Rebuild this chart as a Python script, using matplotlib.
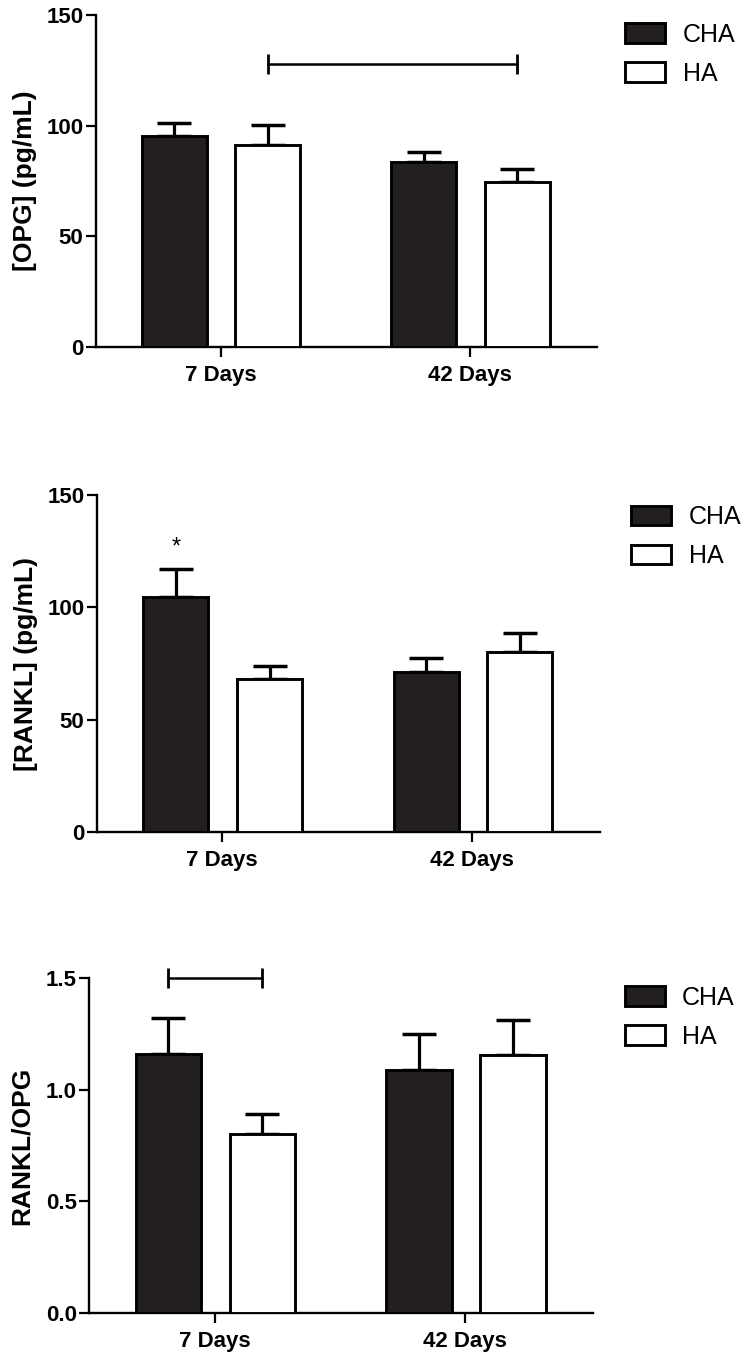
import numpy as np
import matplotlib
matplotlib.use("Agg")
import matplotlib.pyplot as plt

plt.rcParams['font.family'] = ['Liberation Sans', 'DejaVu Sans']

# Data
days = ["7 Days", "42 Days"]
groups = ["CHA", "HA"]

opg_cha = [95.5, 83.5]
opg_cha_err = [5.5, 4.5]
opg_ha = [91.3, 74.4]
opg_ha_err = [9.0, 6.0]

rankl_cha = [104.4, 71.3]
rankl_cha_err = [12.5, 6.3]
rankl_ha = [68.0, 80.0]
rankl_ha_err = [6.0, 8.4]

ratio_cha = [1.16, 1.09]
ratio_cha_err = [0.16, 0.16]
ratio_ha = [0.80, 1.155]
ratio_ha_err = [0.09, 0.155]

# significance marks
opg_bracket = 127.7
rankl_star = 126.5
ratio_bracket = 1.50

x = np.arange(len(days))
offsets = [-0.185, 0.19]
width = 0.26


def draw_panel(rect, cha, cha_err, ha, ha_err, ylabel, yticks, fmt, legend_xy, label_x):
    ax = fig.add_axes(rect)
    ax.bar(x + offsets[0], cha, width, color='#231f20', edgecolor='black', linewidth=2.1, zorder=3, label=groups[0])
    ax.bar(x + offsets[1], ha, width, color='white', edgecolor='black', linewidth=2.1, zorder=3, label=groups[1])
    ax.errorbar(x + offsets[0], cha, yerr=[np.zeros(len(cha)), cha_err], fmt='none', ecolor='black',
                elinewidth=2.3, capsize=12, capthick=2.5, zorder=2)
    ax.errorbar(x + offsets[1], ha, yerr=[np.zeros(len(ha)), ha_err], fmt='none', ecolor='black',
                elinewidth=2.3, capsize=12, capthick=2.5, zorder=2)

    ax.set_xlim(-0.5, 1.51)
    ax.set_ylim(yticks[0], yticks[-1])
    ax.set_xticks(x)
    ax.set_xticklabels(days, fontsize=16, fontweight='bold')
    ax.set_yticks(yticks)
    ax.set_yticklabels([fmt.format(t) for t in yticks], fontsize=16, fontweight='bold')
    ax.tick_params(axis='both', direction='out', length=7, width=1.6, pad=2)
    ax.tick_params(axis='x', pad=6)
    for side in ['top', 'right']:
        ax.spines[side].set_visible(False)
    for side in ['left', 'bottom']:
        ax.spines[side].set_linewidth(1.7)
    ax.set_ylabel(ylabel, fontsize=19, fontweight='bold')
    ax.yaxis.set_label_coords(label_x, 0.5)

    ax.legend(loc='upper left', bbox_to_anchor=legend_xy, bbox_transform=fig.transFigure,
              frameon=False, fontsize=18, handlelength=1.6, handleheight=0.85,
              handletextpad=0.7, labelspacing=0.6, borderpad=0, borderaxespad=0)
    return ax


fig = plt.figure(figsize=(7.49, 13.58), dpi=100)

# Panel 1: OPG
ax1 = draw_panel([0.128, 0.7445, 0.669, 0.2445], opg_cha, opg_cha_err, opg_ha, opg_ha_err,
                 "[OPG] (pg/mL)", [0, 50, 100, 150], "{:.0f}", (0.835, 0.983), -0.118)
ax1.plot([x[0] + offsets[1], x[1] + offsets[1]], [opg_bracket, opg_bracket], color='black',
         lw=1.8, marker='|', markersize=15, mew=2, clip_on=False)

# Panel 2: RANKL
ax2 = draw_panel([0.1295, 0.3873, 0.6715, 0.2482], rankl_cha, rankl_cha_err, rankl_ha, rankl_ha_err,
                 "[RANKL] (pg/mL)", [0, 50, 100, 150], "{:.0f}", (0.843, 0.628), -0.118)
ax2.text(x[0] + offsets[0], rankl_star, "*", ha='center', va='center', fontsize=17)

# Panel 3: RANKL/OPG
ax3 = draw_panel([0.119, 0.0331, 0.673, 0.2467], ratio_cha, ratio_cha_err, ratio_ha, ratio_ha_err,
                 "RANKL/OPG", [0.0, 0.5, 1.0, 1.5], "{:.1f}", (0.834, 0.274), -0.11)
ax3.plot([x[0] + offsets[0], x[0] + offsets[1]], [ratio_bracket, ratio_bracket], color='black',
         lw=1.8, marker='|', markersize=15, mew=2, clip_on=False)

plt.savefig("out.png", dpi=100)
plt.close()
